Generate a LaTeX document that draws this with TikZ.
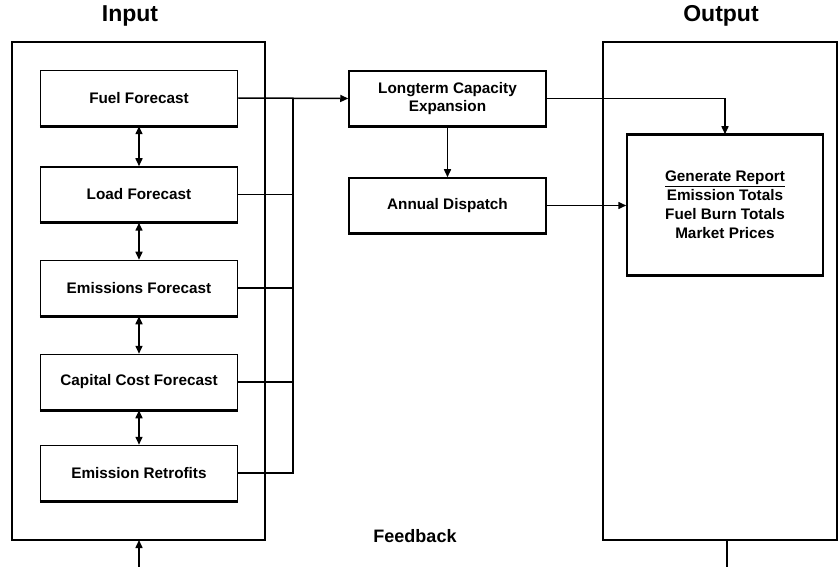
\documentclass[tikz,border=0pt]{standalone}
\usepackage{fontspec}
\setmainfont{Liberation Sans}
\usetikzlibrary{arrows.meta}
\begin{document}
\begin{tikzpicture}[x=1pt,y=-1pt,
  line width=1.5pt,
  tip/.style={-{Triangle[length=8pt,width=7pt]}},
  dtip/.style={{Triangle[length=8pt,width=7pt]}-{Triangle[length=8pt,width=7pt]}},
  inbox/.style={draw, minimum width=197pt, minimum height=55pt, inner sep=0pt,
    font=\fontsize{15.3}{18}\selectfont\bfseries, align=center},
  frame/.style={draw, line width=1.4pt},
  ttl/.style={font=\fontsize{23}{26}\selectfont\bfseries}]
\useasboundingbox (0,0) rectangle (839,567);
% outer frames
\draw[frame] (12,42) rectangle (265,540);
\coordinate (inS) at (139,540);
\draw[frame] (603,42) rectangle (837,540);
\node[ttl] (tin) at (130,16) {Input};
\node[ttl] (tout) at (721,16) {Output};
% input boxes
\node[inbox] (fuel) at (139,98) {Fuel Forecast};
\node[inbox] (load) at (139,194.5) {Load Forecast};
\node[inbox] (emis) at (139,288) {Emissions Forecast};
\node[inbox] (cap) at (139,382) {Capital Cost Forecast};
\node[inbox] (retro) at (139,473) {Emission Retrofits};
% process boxes
\node[inbox] (lt) at (447.5,98.5) {Longterm Capacity\\Expansion};
\node[inbox] (ad) at (447.5,205.5) {Annual Dispatch};
\node[inbox, minimum width=196pt, minimum height=140pt, font=\fontsize{15.3}{19}\selectfont\bfseries] (gen) at (725,205)
  {\underline{Generate Report}\\Emission Totals\\Fuel Burn Totals\\Market Prices};
\foreach \n in {fuel,load,emis,cap,retro,lt,ad,gen}
  \draw[line width=3pt] (\n.south west) -- (\n.south east);
\draw[line width=3pt] (gen.north west) -- (gen.north east);
% double arrows
\draw[dtip] (fuel.south) -- (load.north);
\draw[dtip] (load.south) -- (emis.north);
\draw[dtip] (emis.south) -- (cap.north);
\draw[dtip] (cap.south) -- (retro.north);
% bus
\coordinate (busTop) at (293,98);
\draw[tip] (fuel.east) -- (lt.west);
\draw (retro.east) -| (busTop);
\draw (load.east) -- (load.east -| busTop);
\draw (emis.east) -- (emis.east -| busTop);
\draw (cap.east) -- (cap.east -| busTop);
% process connectors
\draw[tip] (lt.south) -- (ad.north);
\draw[tip] (lt.east) -| (gen.north);
\draw[tip] (ad.east) -- (ad.east -| gen.west);
% feedback
\node[font=\fontsize{18}{20}\selectfont\bfseries] (fb) at (415,536) {Feedback};
\coordinate (fbIn) at (139,567);
\draw[tip] (fbIn) -- (inS);
\coordinate (outS) at (727,540);
\coordinate (fbOut) at (727,567);
\draw (outS) -- (fbOut);
\end{tikzpicture}
\end{document}
